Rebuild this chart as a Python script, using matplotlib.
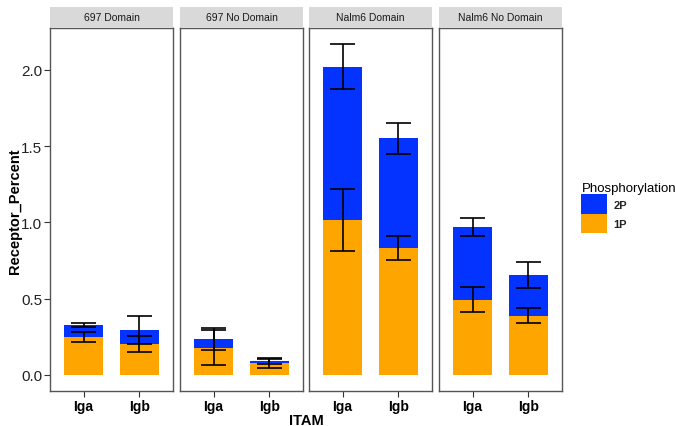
import numpy as np
import matplotlib
matplotlib.use('Agg')
import matplotlib.pyplot as plt
from matplotlib.patches import Patch

plt.rcParams['font.family'] = ['Liberation Sans', 'DejaVu Sans']

panels = ['697 Domain', '697 No Domain', 'Nalm6 Domain', 'Nalm6 No Domain']
itam = ['Iga', 'Igb']

# stacked values per panel: [Iga, Igb]
p1 = [[0.247, 0.203], [0.180, 0.077], [1.016, 0.831], [0.492, 0.389]]
p2 = [[0.083, 0.092], [0.056, 0.013], [1.006, 0.721], [0.476, 0.267]]
err1 = [[0.033, 0.050], [0.117, 0.030], [0.205, 0.077], [0.082, 0.050]]
err2 = [[0.014, 0.090], [0.075, 0.020], [0.148, 0.100], [0.059, 0.084]]

col_2p = '#0433ff'
col_1p = '#ffa500'

W, H = 675, 427
fig = plt.figure(figsize=(W / 100, H / 100), dpi=100)

lefts = [50, 180, 309, 439]
pw = 123
top, bot = 29, 392
x = np.arange(1, 3)

for i, name in enumerate(panels):
    ax = fig.add_axes([lefts[i] / W, 1 - bot / H, pw / W, (bot - top) / H])
    ax.bar(x, p1[i], width=0.7, color=col_1p, zorder=1)
    ax.bar(x, p2[i], width=0.7, bottom=p1[i], color=col_2p, zorder=1)
    tot = np.array(p1[i]) + np.array(p2[i])
    for c, e in [(np.array(p1[i]), np.array(err1[i])), (tot, np.array(err2[i]))]:
        ax.vlines(x, c - e, c + e, color='black', lw=1.2, zorder=3)
        ax.hlines(c - e, x - 0.22, x + 0.22, color='black', lw=1.2, zorder=3)
        ax.hlines(c + e, x - 0.22, x + 0.22, color='black', lw=1.2, zorder=3)
    ax.set_xlim(0.4, 2.6)
    ax.set_ylim(-0.105, 2.275)
    ax.set_xticks(x)
    ax.set_xticklabels(itam, fontsize=10, fontweight='bold')
    ax.set_yticks([0, 0.5, 1.0, 1.5, 2.0])
    for s in ax.spines.values():
        s.set_color('#555555')
        s.set_linewidth(1.0)
    ax.tick_params(axis='both', length=4, color='#333333', width=0.8, pad=1.5)
    if i == 0:
        ax.set_yticklabels(['0.0', '0.5', '1.0', '1.5', '2.0'], fontsize=11, color='#222222')
    else:
        ax.tick_params(axis='y', left=False, labelleft=False)

    sax = fig.add_axes([lefts[i] / W, 1 - 28 / H, pw / W, 20 / H])
    sax.set_facecolor('#d9d9d9')
    sax.set_xticks([])
    sax.set_yticks([])
    for s in sax.spines.values():
        s.set_visible(False)
    sax.text(0.5, 0.5, name, ha='center', va='center', fontsize=7.5, color='#1a1a1a',
             transform=sax.transAxes)

fig.text(15 / W, 1 - 211 / H, 'Receptor_Percent', ha='center', va='center', rotation=90,
         fontsize=10.5, fontweight='bold')
fig.text(306 / W, 1 - 421 / H, 'ITAM', ha='center', va='center', fontsize=10.5, fontweight='bold')

handles = [Patch(facecolor=col_2p, label='2P'), Patch(facecolor=col_1p, label='1P')]
leg = fig.legend(handles=handles, title='Phosphorylation', loc='upper left',
                 bbox_to_anchor=(577 / W, 1 - 179 / H), frameon=False,
                 handlelength=2.3, handleheight=2.3, handletextpad=0.6,
                 labelspacing=0.0, fontsize=8, title_fontsize=9.5, borderaxespad=0)
leg._legend_box.align = 'left'
for t in leg.get_texts():
    t.set_fontweight('bold')
    t.set_color('#222222')

fig.savefig('out.png', dpi=100)
